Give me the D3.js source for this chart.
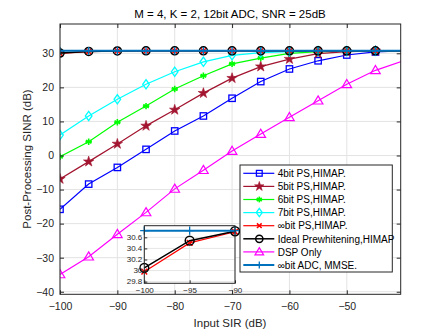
<!DOCTYPE html>
<html>
<head>
<meta charset="utf-8">
<script src="https://cdn.jsdelivr.net/npm/d3@7"></script>
<style>
  body { margin: 0; background: #fff; }
  svg { font-family: "Liberation Sans", Arial, sans-serif; }
</style>
</head>
<body>
<div id="chart"></div>
<script>
// data
const sir = [-100, -95, -90, -85, -80, -75, -70, -65, -60, -55, -50, -45, -40];
const bit4 = [-15.8, -8.4, -3.5, 1.8, 7.2, 11.6, 16.8, 21.7, 25.4, 27.8, 29.5, 30.4, 30.7];
const bit5 = [-6.9, -1.8, 3.4, 8.7, 13.4, 18.3, 22.7, 26.1, 28.3, 29.9, 30.5, 30.7, 30.72];
const bit6 = [-0.35, 4.05, 9.75, 14.5, 19.5, 23.4, 26.9, 28.6, 30.0, 30.5, 30.65, 30.7, 30.72];
const bit7 = [6.0, 11.6, 16.5, 20.9, 24.6, 27.5, 29.4, 30.2, 30.5, 30.65, 30.7, 30.72, 30.72];
const psInf = [29.98, 30.5, 30.7, 30.72, 30.72, 30.72, 30.72, 30.72, 30.72, 30.72, 30.72, 30.72, 30.72];
const ideal = [30.05, 30.54, 30.71, 30.72, 30.72, 30.72, 30.72, 30.72, 30.72, 30.72, 30.72, 30.72, 30.72];
const dspOnly = [-34.9, -29.7, -23.1, -16.7, -9.8, -4.3, 1.3, 6.3, 11.2, 16.1, 20.9, 25.0, 27.85];
const mmseInf = [30.72, 30.72, 30.72, 30.72, 30.72, 30.72, 30.72, 30.72, 30.72, 30.72, 30.72, 30.72, 30.72];

const xTicks = [-100, -90, -80, -70, -60, -50];
const yTicks = [-40, -30, -20, -10, 0, 10, 20, 30];
const insetXTicks = [-100, -95, -90];
const insetYTicks = [29.8, 30, 30.2, 30.4, 30.6];

const series = [
  { name: "4bit PS,HIMAP.", values: bit4, color: "#0000ff", marker: "square", lw: 1.2 },
  { name: "5bit PS,HIMAP.", values: bit5, color: "#a2142f", marker: "star", lw: 1.2 },
  { name: "6bit PS,HIMAP.", values: bit6, color: "#00ff00", marker: "asterisk", lw: 1.2 },
  { name: "7bit PS,HIMAP.", values: bit7, color: "#00ffff", marker: "diamond", lw: 1.2 },
  { name: "\u221ebit PS,HIMAP.", values: psInf, color: "#ff0000", marker: "cross", lw: 1.2 },
  { name: "Ideal Prewhitening,HIMAP", values: ideal, color: "#000000", marker: "circle", lw: 1.5 },
  { name: "DSP Only", values: dspOnly, color: "#ff00ff", marker: "triangle", lw: 1.2 },
  { name: "\u221ebit ADC, MMSE.", values: mmseInf, color: "#0072bd", marker: "plus", lw: 2 }
];

const W = 443, H = 332;
const plot = { left: 60, right: 400.7, top: 24, bottom: 294.3 };

const svg = d3.select("#chart").append("svg")
  .attr("width", W).attr("height", H);

const x = d3.scaleLinear().domain([-100, -40.6]).range([plot.left, plot.right]);
const y = d3.scaleLinear().domain([-40.75, 38.6]).range([plot.bottom, plot.top]);

// draw a marker shape at (px,py)
function drawMarker(g, type, px, py, color, s) {
  s = s || 1;
  if (type === "square") {
    g.append("rect").attr("x", px - 3.2 * s).attr("y", py - 3.2 * s)
      .attr("width", 6.4 * s).attr("height", 6.4 * s)
      .attr("fill", "none").attr("stroke", color).attr("stroke-width", 1.3);
  } else if (type === "star") {
    g.append("path").attr("d", d3.symbol(d3.symbolStar, 34 * s * s)())
      .attr("transform", `translate(${px},${py})`)
      .attr("fill", color).attr("stroke", color).attr("stroke-width", 0.6);
  } else if (type === "asterisk") {
    const r = 3.2 * s;
    const a = g.append("g").attr("transform", `translate(${px},${py})`)
      .attr("stroke", color).attr("stroke-width", 1.6);
    [0, 60, 120].forEach(deg => {
      const t = deg * Math.PI / 180;
      a.append("line").attr("x1", -r * Math.sin(t)).attr("y1", -r * Math.cos(t))
        .attr("x2", r * Math.sin(t)).attr("y2", r * Math.cos(t));
    });
    a.append("line").attr("x1", -r).attr("x2", r).attr("y1", 0).attr("y2", 0);
  } else if (type === "diamond") {
    const r = 4.6 * s, w = 3.3 * s;
    g.append("path").attr("d", `M${px},${py - r}L${px + w},${py}L${px},${py + r}L${px - w},${py}Z`)
      .attr("fill", "none").attr("stroke", color).attr("stroke-width", 1.3);
  } else if (type === "cross") {
    const r = 2.6 * s;
    g.append("path").attr("d", `M${px - r},${py - r}L${px + r},${py + r}M${px - r},${py + r}L${px + r},${py - r}`)
      .attr("stroke", color).attr("stroke-width", 1.5);
  } else if (type === "circle") {
    g.append("circle").attr("cx", px).attr("cy", py).attr("r", 4 * s)
      .attr("fill", "none").attr("stroke", color).attr("stroke-width", 1.5);
  } else if (type === "triangle") {
    const r = 4.8 * s;
    g.append("path").attr("d", `M${px},${py - r}L${px + r},${py + r * 0.7}L${px - r},${py + r * 0.7}Z`)
      .attr("fill", "none").attr("stroke", color).attr("stroke-width", 1.2);
  } else if (type === "plus") {
    const r = 3.8 * s;
    g.append("path").attr("d", `M${px - r},${py}L${px + r},${py}M${px},${py - r}L${px},${py + r}`)
      .attr("stroke", color).attr("stroke-width", 1.3);
  }
}

// grid
const grid = svg.append("g").attr("stroke", "#e3e3e3").attr("stroke-width", 1);
xTicks.forEach(t => grid.append("line").attr("x1", x(t)).attr("x2", x(t))
  .attr("y1", plot.top).attr("y2", plot.bottom));
yTicks.forEach(t => grid.append("line").attr("y1", y(t)).attr("y2", y(t))
  .attr("x1", plot.left).attr("x2", plot.right));

svg.append("clipPath").attr("id", "clipMain").append("rect")
  .attr("x", plot.left).attr("y", plot.top)
  .attr("width", plot.right - plot.left).attr("height", plot.bottom - plot.top);

const line = d3.line().x((d, i) => x(sir[i])).y(d => y(d));
const lines = svg.append("g").attr("clip-path", "url(#clipMain)");
series.forEach(s => {
  lines.append("path").attr("d", line(s.values))
    .attr("fill", "none").attr("stroke", s.color).attr("stroke-width", s.lw);
  s.values.forEach((v, i) => {
    if (sir[i] <= x.domain()[1]) drawMarker(lines, s.marker, x(sir[i]), y(v), s.color);
  });
});

// axes box and ticks (MATLAB style, ticks inside)
const axisColor = "#262626";
svg.append("rect").attr("x", plot.left).attr("y", plot.top)
  .attr("width", plot.right - plot.left).attr("height", plot.bottom - plot.top)
  .attr("fill", "none").attr("stroke", axisColor).attr("stroke-width", 1);

const xAxis = svg.append("g").attr("transform", `translate(0,${plot.bottom})`)
  .call(d3.axisBottom(x).tickValues(xTicks).tickSize(-4).tickPadding(8));
const xAxisTop = svg.append("g").attr("transform", `translate(0,${plot.top})`)
  .call(d3.axisTop(x).tickValues(xTicks).tickSize(-4).tickFormat(""));
const yAxis = svg.append("g").attr("transform", `translate(${plot.left},0)`)
  .call(d3.axisLeft(y).tickValues(yTicks).tickSize(-4).tickPadding(6));
const yAxisRight = svg.append("g").attr("transform", `translate(${plot.right},0)`)
  .call(d3.axisRight(y).tickValues(yTicks).tickSize(-4).tickFormat(""));
[xAxis, xAxisTop, yAxis, yAxisRight].forEach(a => {
  a.select(".domain").remove();
  a.selectAll("line").attr("stroke", axisColor);
  a.selectAll("text").attr("fill", axisColor).attr("font-size", 10.5)
    .attr("font-family", "Liberation Sans, Arial, sans-serif");
});

// labels
svg.append("text").attr("x", 230).attr("y", 18).attr("text-anchor", "middle")
  .attr("font-size", 11.5).attr("fill", "#000")
  .text("M = 4, K = 2, 12bit ADC, SNR = 25dB");
svg.append("text").attr("x", 230).attr("y", 327).attr("text-anchor", "middle")
  .attr("font-size", 11.5).attr("fill", axisColor).text("Input SIR (dB)");
svg.append("text").attr("transform", `translate(31,159) rotate(-90)`)
  .attr("text-anchor", "middle").attr("font-size", 11.5).attr("fill", axisColor)
  .text("Post-Processing SINR (dB)");

// legend
const lg = { x: 240, y: 165, w: 152.3, h: 107 };
const legend = svg.append("g");
legend.append("rect").attr("x", lg.x).attr("y", lg.y).attr("width", lg.w).attr("height", lg.h)
  .attr("fill", "#fff").attr("stroke", axisColor).attr("stroke-width", 1);
series.forEach((s, i) => {
  const ly = 173.3 + i * 13.1;
  legend.append("line").attr("x1", 243.3).attr("x2", 274.3).attr("y1", ly).attr("y2", ly)
    .attr("stroke", s.color).attr("stroke-width", s.lw);
  drawMarker(legend, s.marker, 259.3, ly, s.color, 0.9);
  legend.append("text").attr("x", 277.7).attr("y", ly + 3.7)
    .attr("font-size", 10).attr("fill", "#000").text(s.name);
});

// inset zoom of the top curves
const ins = { left: 144.3, right: 235, top: 225.7, bottom: 283.3 };
const xi = d3.scaleLinear().domain([-100, -90]).range([ins.left, ins.right]);
const yi = d3.scaleLinear().domain([29.77, 30.81]).range([ins.bottom, ins.top]);
const inset = svg.append("g");
inset.append("rect").attr("x", ins.left).attr("y", ins.top)
  .attr("width", ins.right - ins.left).attr("height", ins.bottom - ins.top).attr("fill", "#fff");
insetXTicks.forEach(t => inset.append("line").attr("x1", xi(t)).attr("x2", xi(t))
  .attr("y1", ins.top).attr("y2", ins.bottom).attr("stroke", "#e6e6e6"));
insetYTicks.forEach(t => inset.append("line").attr("y1", yi(t)).attr("y2", yi(t))
  .attr("x1", ins.left).attr("x2", ins.right).attr("stroke", "#e6e6e6"));

svg.append("clipPath").attr("id", "clipInset").append("rect")
  .attr("x", ins.left - 5).attr("y", ins.top - 5)
  .attr("width", ins.right - ins.left + 10).attr("height", ins.bottom - ins.top + 10);
const insetLines = inset.append("g").attr("clip-path", "url(#clipInset)");
const lineI = d3.line().x((d, i) => xi(sir[i])).y(d => yi(d));
series.filter(s => s.values[0] > 29).forEach(s => {
  const vals = s.values.slice(0, 3);
  insetLines.append("path").attr("d", lineI(vals))
    .attr("fill", "none").attr("stroke", s.color).attr("stroke-width", s.lw);
  vals.forEach((v, i) => drawMarker(insetLines, s.marker, xi(sir[i]), yi(v), s.color, 1.1));
});
inset.append("rect").attr("x", ins.left).attr("y", ins.top)
  .attr("width", ins.right - ins.left).attr("height", ins.bottom - ins.top)
  .attr("fill", "none").attr("stroke", axisColor).attr("stroke-width", 1);

const ixAxis = inset.append("g").attr("transform", `translate(0,${ins.bottom})`)
  .call(d3.axisBottom(xi).tickValues(insetXTicks).tickSize(-3).tickPadding(4.5));
const iyAxis = inset.append("g").attr("transform", `translate(${ins.left},0)`)
  .call(d3.axisLeft(yi).tickValues(insetYTicks).tickSize(-3).tickPadding(2).tickFormat(d3.format("")));
[ixAxis, iyAxis].forEach(a => {
  a.select(".domain").remove();
  a.selectAll("line").attr("stroke", axisColor);
  a.selectAll("text").attr("fill", axisColor).attr("font-size", 8)
    .attr("font-family", "Liberation Sans, Arial, sans-serif");
});
iyAxis.selectAll("text").attr("dy", "0.25em");
</script>
</body>
</html>
